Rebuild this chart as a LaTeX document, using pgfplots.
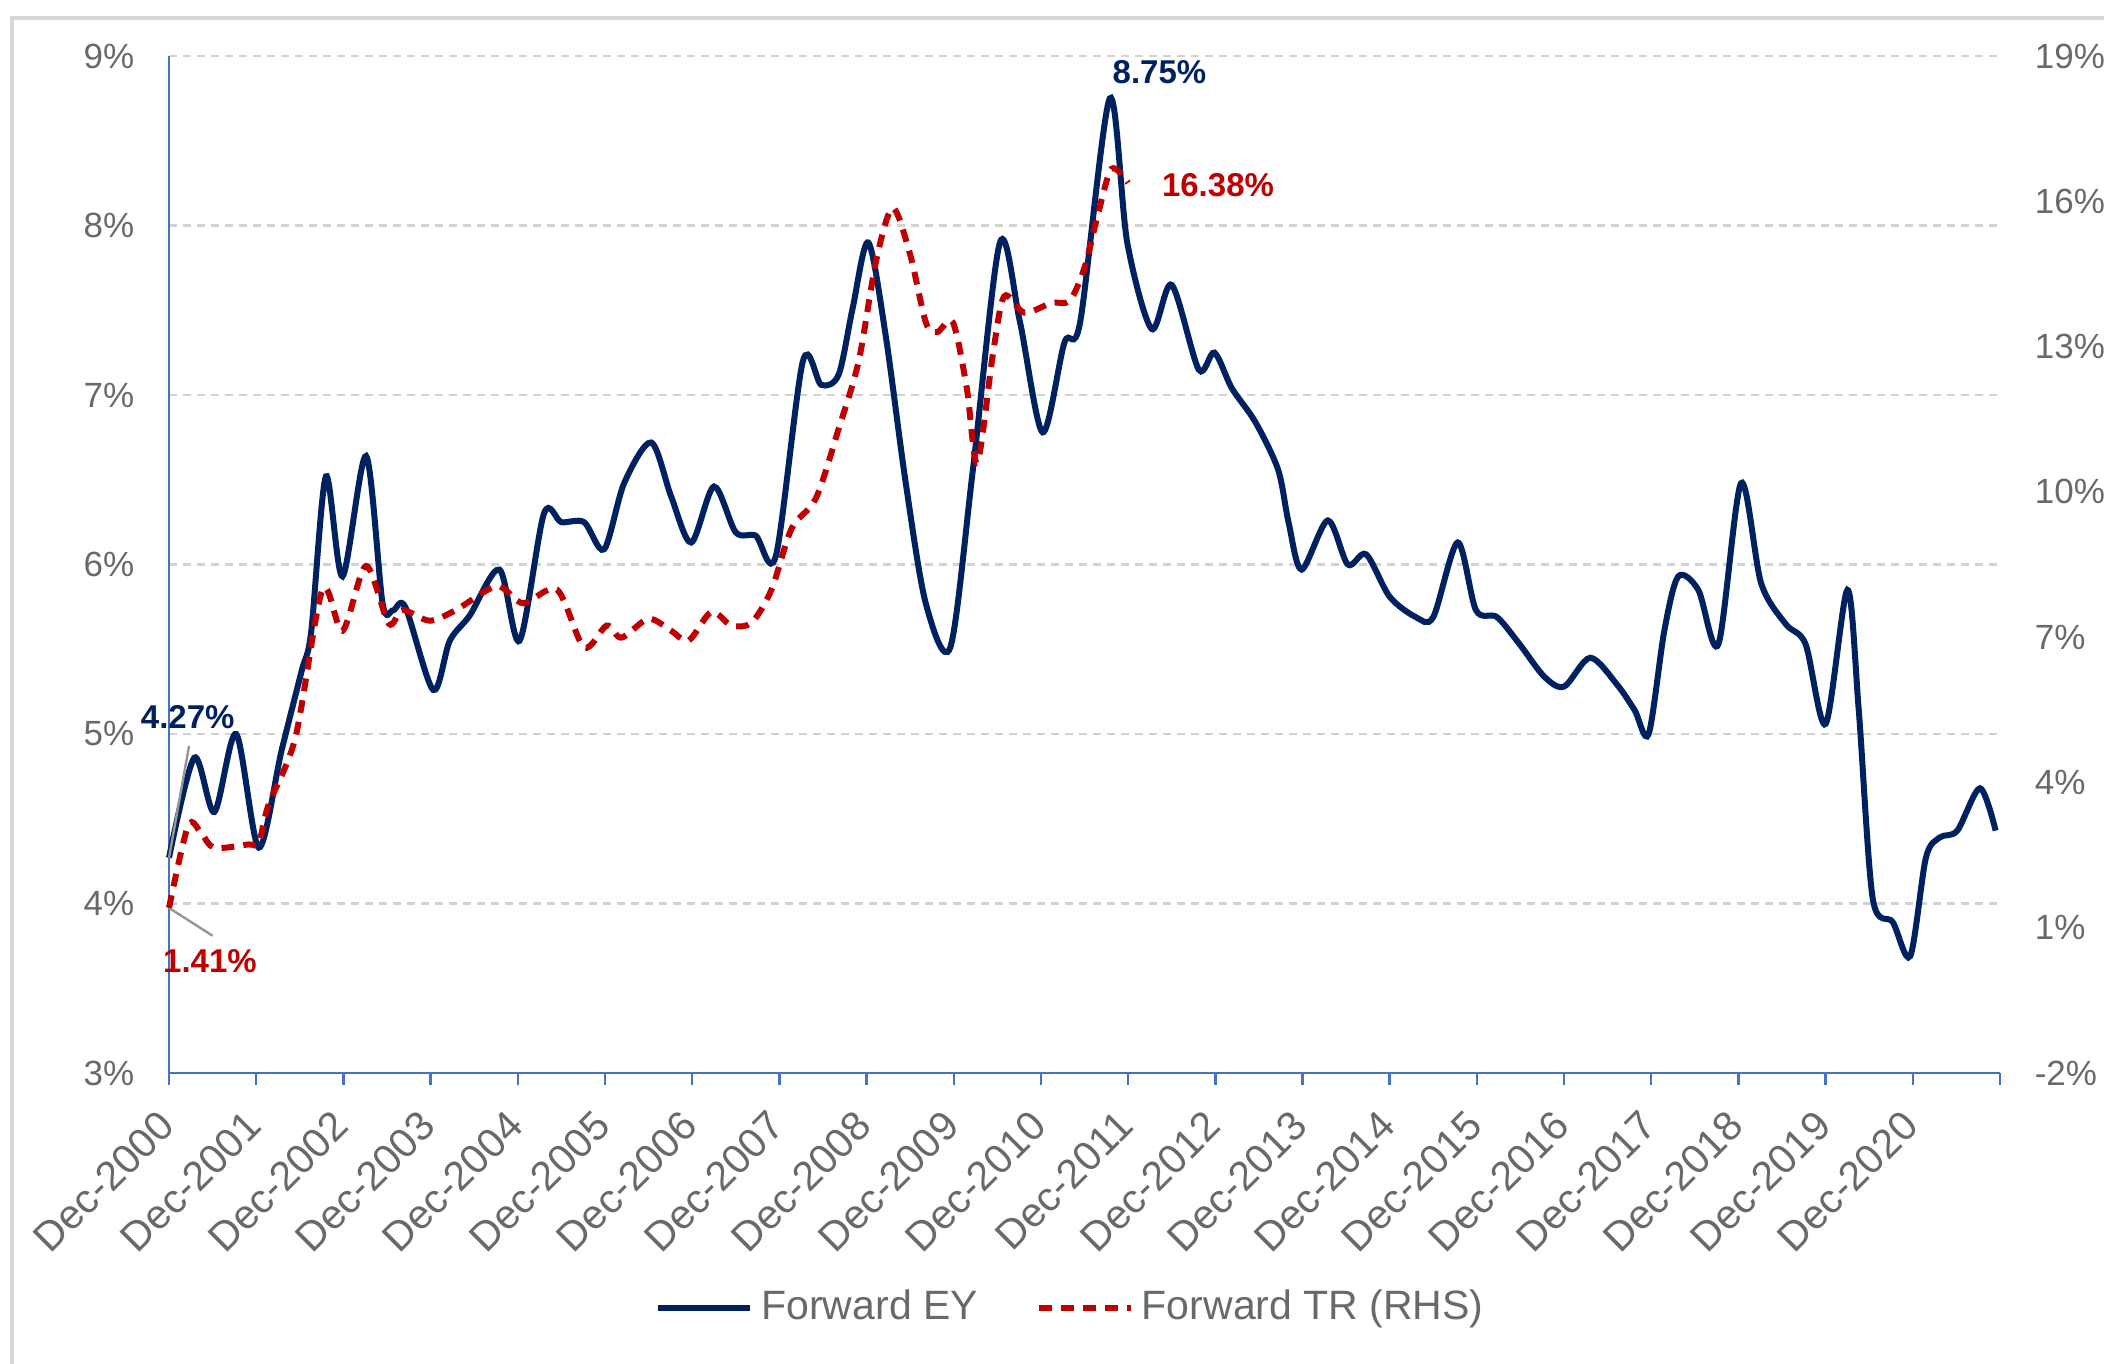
\documentclass[border=0pt]{standalone}
\usepackage{pgfplots}
\pgfplotsset{compat=1.18}
\usepackage{fontspec}
\setmainfont{Liberation Sans}
\definecolor{navy}{RGB}{0,33,96}
\definecolor{tred}{RGB}{192,0,0}
\definecolor{axblue}{RGB}{68,114,196}
\definecolor{tickgray}{RGB}{105,105,105}
\definecolor{gridgray}{RGB}{210,210,210}
\definecolor{framegray}{RGB}{215,215,215}
\definecolor{leadgray}{RGB}{150,150,150}
\begin{document}
\begin{tikzpicture}
\useasboundingbox (0,0) rectangle (526pt,340.75pt);
\draw[framegray, line width=0.8pt] (3pt,-5pt) -- (3pt,336.25pt) -- (535pt,336.25pt);
\begin{axis}[
  at={(42.25pt,72.5pt)}, anchor=south west,
  width=457.75pt, height=254.25pt, scale only axis,
  xmin=0, xmax=21, ymin=3, ymax=9,
  axis x line*=bottom, axis y line*=left,
  axis line style={axblue, line width=0.6pt, -},
  xtick={0,...,21},
  xticklabels={Dec-2000,Dec-2001,Dec-2002,Dec-2003,Dec-2004,Dec-2005,Dec-2006,Dec-2007,Dec-2008,Dec-2009,Dec-2010,Dec-2011,Dec-2012,Dec-2013,Dec-2014,Dec-2015,Dec-2016,Dec-2017,Dec-2018,Dec-2019,Dec-2020,{}},
  ytick={3,4,5,6,7,8,9},
  yticklabels={3\%,4\%,5\%,6\%,7\%,8\%,9\%},
  ymajorgrids, major grid style={gridgray, dash pattern=on 2pt off 1.5pt, line width=0.6pt},
  tick align=outside, major tick length=3pt,
  xtick style={axblue, line width=0.6pt},
  ytick style={draw=none},
  ticklabel style={font=\fontsize{8.75}{10}\selectfont, text=tickgray},
  xticklabel style={font=\fontsize{10.25}{12}\selectfont, rotate=45, anchor=north east, inner sep=0pt, xshift=-6.2pt, yshift=-1.7pt},
  yticklabel style={anchor=east, inner sep=0pt, xshift=-5.5pt},
  clip=false,
]
\addplot[navy, line width=1.5pt, smooth, tension=0.5] coordinates {
(0,4.27) (0.29,4.86) (0.52,4.54) (0.77,5.00) (1.03,4.33) (1.29,4.90) (1.52,5.37) (1.63,5.60)
(1.80,6.52) (1.99,5.93) (2.26,6.64) (2.45,5.77) (2.57,5.73) (2.71,5.75) (3.03,5.26) (3.22,5.55)
(3.45,5.70) (3.79,5.97) (4.02,5.55) (4.30,6.30) (4.50,6.25) (4.76,6.25) (4.99,6.09) (5.22,6.48)
(5.53,6.72) (5.76,6.40) (5.99,6.13) (6.25,6.46) (6.50,6.19) (6.73,6.17) (6.96,6.05) (7.27,7.20)
(7.48,7.06) (7.68,7.12) (7.84,7.51) (8.02,7.90) (8.22,7.35) (8.45,6.48) (8.68,5.77) (8.96,5.51)
(9.22,6.56) (9.53,7.90) (9.76,7.43) (10.02,6.78) (10.27,7.31) (10.45,7.43) (10.79,8.75) (10.99,7.90)
(11.27,7.39) (11.50,7.65) (11.81,7.15) (11.99,7.25) (12.19,7.04) (12.46,6.84) (12.72,6.56) (12.84,6.25)
(12.99,5.97) (13.29,6.26) (13.52,6.00) (13.73,6.06) (14.00,5.81) (14.30,5.69) (14.50,5.69) (14.78,6.13)
(14.99,5.73) (15.23,5.69) (15.49,5.53) (15.77,5.34) (16.00,5.28) (16.30,5.45) (16.61,5.29) (16.81,5.14)
(16.97,5.00) (17.15,5.61) (17.31,5.93) (17.54,5.85) (17.77,5.53) (18.03,6.48) (18.26,5.89) (18.54,5.65)
(18.77,5.53) (19.00,5.06) (19.25,5.85) (19.38,5.14) (19.54,4.03) (19.77,3.89) (19.97,3.69) (20.15,4.27)
(20.31,4.39) (20.51,4.43) (20.77,4.68) (20.95,4.43)
};
\draw[leadgray, line width=0.6pt] (axis cs:0,4.27) -- (axis cs:0.23,4.93);
\draw[leadgray, line width=0.6pt] (axis cs:0,3.974) -- (axis cs:0.5,3.81);
\node[navy, font=\fontsize{8.25}{10}\selectfont\bfseries, inner sep=0pt] at (axis cs:0.215,5.10) {4.27\%};
\node[tred, font=\fontsize{8.25}{10}\selectfont\bfseries, inner sep=0pt] at (axis cs:0.47,3.66) {1.41\%};
\node[navy, font=\fontsize{8.25}{10}\selectfont\bfseries, inner sep=0pt] at (axis cs:11.36,8.905) {8.75\%};
\node[tred, font=\fontsize{8.25}{10}\selectfont\bfseries, inner sep=0pt, anchor=west] at (axis cs:11.38,8.24) {16.38\%};
\end{axis}
\begin{axis}[
  at={(42.25pt,72.5pt)}, anchor=south west,
  width=457.75pt, height=254.25pt, scale only axis,
  xmin=0, xmax=21, ymin=-2, ymax=19,
  hide x axis,
  axis y line*=right,
  y axis line style={draw=none},
  ytick={-2,1,4,7,10,13,16,19},
  yticklabels={-2\%,1\%,4\%,7\%,10\%,13\%,16\%,19\%},
  tick align=outside, major tick length=3pt,
  ytick style={draw=none},
  ticklabel style={font=\fontsize{8.75}{10}\selectfont, text=tickgray},
  yticklabel style={anchor=west, inner sep=0pt, xshift=5.5pt},
  clip=false,
  legend style={at={(0.494,-0.231)}, anchor=center, draw=none, fill=none,
    legend columns=2, font=\fontsize{10.25}{12}\selectfont, text=tickgray,
    /tikz/every even column/.append style={column sep=12.5pt}},
  legend image code/.code={\draw[#1] (0pt,0pt) -- (23pt,0pt);},
]
\addlegendimage{navy, line width=1.5pt}
\addlegendentry{Forward EY}
\addplot[tred, line width=1.5pt, dash pattern=on 3.2pt off 2.3pt, smooth, tension=0.5] coordinates {
(0,1.41) (0.22,3.11) (0.37,2.95) (0.52,2.65) (0.91,2.72) (1.03,2.75) (1.14,3.53) (1.45,4.93)
(1.76,7.98) (1.99,7.13) (2.26,8.47) (2.52,7.28) (2.68,7.56) (2.99,7.34) (3.29,7.56) (3.76,8.05)
(4.06,7.70) (4.45,7.98) (4.76,6.79) (5.02,7.24) (5.19,6.99) (5.50,7.38) (5.76,7.13) (5.96,6.93)
(6.22,7.52) (6.45,7.24) (6.68,7.30) (6.91,7.98) (7.14,9.24) (7.42,9.87) (7.68,11.30) (7.91,12.70)
(8.11,14.77) (8.30,15.86) (8.50,14.90) (8.68,13.50) (8.81,13.30) (8.99,13.50) (9.15,12.14) (9.27,10.60)
(9.45,12.85) (9.58,14.04) (9.81,13.70) (10.12,13.90) (10.33,13.95) (10.50,14.63) (10.65,15.70) (10.81,16.67)
(11.00,16.38)
};
\addlegendentry{Forward TR (RHS)}
\end{axis}
\end{tikzpicture}
\end{document}
